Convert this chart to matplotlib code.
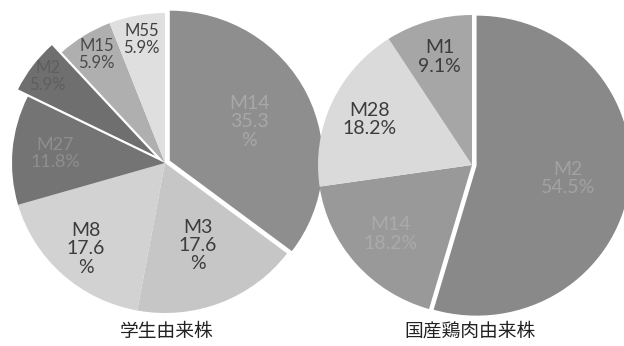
import numpy as np
import matplotlib
matplotlib.use('Agg')
from matplotlib import pyplot as plt

W, H = 624, 346

# 学生由来株 (17 strains)
student_labels = ['M14', 'M3', 'M8', 'M27', 'M2', 'M15', 'M55']
student_pct = [35.3, 17.6, 17.6, 11.8, 5.9, 5.9, 5.9]
student_text = ['M14\n35.3\n%', 'M3\n17.6\n%', 'M8\n17.6\n%', 'M27\n11.8%',
                'M2\n5.9%', 'M15\n5.9%', 'M55\n5.9%']

# 国産鶏肉由来株 (11 strains)
chicken_labels = ['M2', 'M14', 'M28', 'M1']
chicken_pct = [54.5, 18.2, 18.2, 9.1]
chicken_text = ['M2\n54.5%', 'M14\n18.2%', 'M28\n18.2%', 'M1\n9.1%']

titles = ['学生由来株', '国産鶏肉由来株']

plt.rcParams['font.family'] = ['Lato', 'DejaVu Sans']


def make_axes(fig, cx, cy, rx, ry, pad=1.3):
    ax = fig.add_axes([(cx - pad * rx) / W, (H - cy - pad * ry) / H,
                       2 * pad * rx / W, 2 * pad * ry / H])
    return ax, pad


def draw_pie(ax, pad, values, texts, colors, explode, dists, tcolors, tsizes):
    wedges, _ = ax.pie(values, colors=colors, explode=explode, startangle=90,
                       counterclock=False, radius=1.0,
                       wedgeprops=dict(linewidth=0))
    for w, t, d, tc, ts in zip(wedges, texts, dists, tcolors, tsizes):
        ang = np.deg2rad((w.theta1 + w.theta2) / 2)
        x0, y0 = w.center
        ax.text(x0 + d * np.cos(ang), y0 + d * np.sin(ang), t, ha='center',
                va='center', color=tc, fontsize=ts, linespacing=1.1)
    ax.set_aspect('auto')
    ax.set_xlim(-pad, pad)
    ax.set_ylim(-pad, pad)
    ax.axis('off')


fig = plt.figure(figsize=(W / 100, H / 100), dpi=100)
fig.patch.set_facecolor('white')

ax1, p1 = make_axes(fig, 165, 163, 153, 150)
draw_pie(ax1, p1, student_pct, student_text,
         colors=['#8e8e8e', '#c6c6c6', '#d2d2d2', '#747474', '#6f6f6f', '#afafaf', '#dfdfdf'],
         explode=[0.035, 0, 0, 0, 0.08, 0, 0],
         dists=[0.58, 0.59, 0.77, 0.72, 0.88, 0.85, 0.84],
         tcolors=['#a8a8a8', '#3c3c3c', '#3c3c3c', '#8e8e8e', '#5e5e5e', '#4a4a4a', '#404040'],
         tsizes=[14, 14, 14, 13, 12, 12, 12])

ax2, p2 = make_axes(fig, 472, 165, 154, 150)
draw_pie(ax2, p2, chicken_pct, chicken_text,
         colors=['#898989', '#999999', '#dadada', '#a6a6a6'],
         explode=[0.03, 0, 0, 0],
         dists=[0.6, 0.7, 0.73, 0.75],
         tcolors=['#a2a2a2', '#aaaaaa', '#3c3c3c', '#3c3c3c'],
         tsizes=[14, 14, 14, 14])

for cx, title in zip([167, 470], titles):
    fig.text(cx / W, 1 - 331 / H, title, ha='center', va='center', fontsize=13.5,
             family=['Noto Sans CJK JP', 'DejaVu Sans'], color='#222222')

fig.savefig('out.png', dpi=100, facecolor='white')
